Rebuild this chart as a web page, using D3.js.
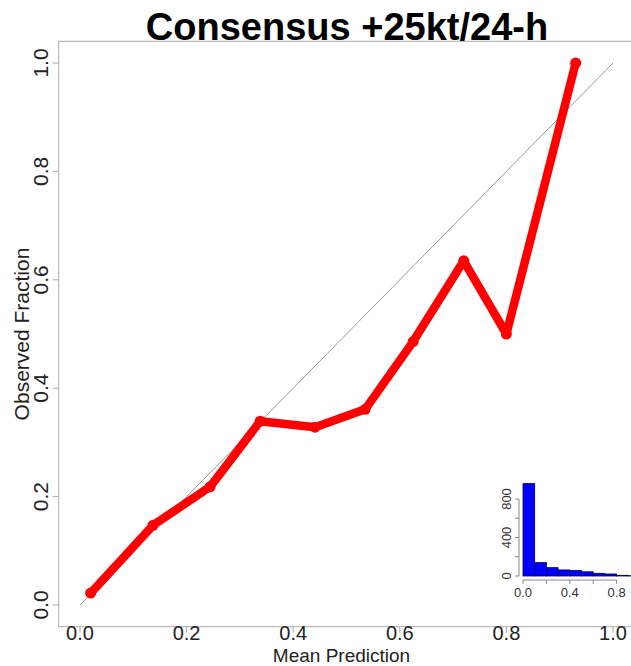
<!DOCTYPE html>
<html>
<head>
<meta charset="utf-8">
<script src="https://cdn.jsdelivr.net/npm/d3@7"></script>
<style>
  body { margin: 0; background: #fff; }
  text { font-family: "Liberation Sans", Arial, sans-serif; }
</style>
</head>
<body>
<svg id="chart" width="631" height="666"></svg>
<script>
// reliability diagram values
var meanPrediction = [0.02, 0.137, 0.244, 0.338, 0.441, 0.535, 0.625, 0.72, 0.80, 0.93];
var observedFraction = [0.022, 0.147, 0.218, 0.339, 0.328, 0.361, 0.486, 0.635, 0.50, 1.0];
var axisTicks = [0, 0.2, 0.4, 0.6, 0.8, 1.0];

// inset histogram of forecast counts
var binStarts = [0, 0.1, 0.2, 0.3, 0.4, 0.5, 0.6, 0.7, 0.8, 0.9];
var binCounts = [960, 139, 87, 63, 57, 44, 28, 21, 7, 3];
var histXTicks = [0, 0.2, 0.4, 0.6, 0.8];
var histXLabels = [0, 0.4, 0.8];
var histYTicks = [0, 200, 400, 600, 800];
var histYLabels = [0, 400, 800];

var svg = d3.select("#chart");

var x = d3.scaleLinear().domain([0, 1]).range([80, 613]);
var y = d3.scaleLinear().domain([0, 1]).range([605, 63]);

// plot box (R style, 4% padding)
svg.append("rect")
    .attr("x", x(-0.04)).attr("y", y(1.04))
    .attr("width", x(1.04) - x(-0.04))
    .attr("height", y(-0.04) - y(1.04))
    .attr("fill", "none").attr("stroke", "#aaa").attr("stroke-width", 1);

// title
svg.append("text")
    .attr("x", 347).attr("y", 40)
    .attr("text-anchor", "middle")
    .attr("font-size", 38).attr("font-weight", "bold")
    .attr("fill", "#000")
    .text("Consensus +25kt/24-h");

// x axis
var xAxis = svg.append("g").attr("transform", "translate(0," + y(-0.04) + ")");
xAxis.selectAll("line").data(axisTicks).enter().append("line")
    .attr("x1", function(d){ return x(d); }).attr("x2", function(d){ return x(d); })
    .attr("y1", 0).attr("y2", 6).attr("stroke", "#aaa");
xAxis.selectAll("text").data(axisTicks).enter().append("text")
    .attr("x", function(d){ return x(d); }).attr("y", 13.5)
    .attr("text-anchor", "middle").attr("font-size", 20).attr("fill", "#222")
    .text(function(d){ return d3.format(".1f")(d); });

svg.append("text")
    .attr("x", x(0.5) - 5).attr("y", 661.5)
    .attr("text-anchor", "middle").attr("font-size", 19).attr("fill", "#222")
    .text("Mean Prediction");

// y axis
var yAxis = svg.append("g").attr("transform", "translate(" + x(-0.04) + ",0)");
yAxis.selectAll("line").data(axisTicks).enter().append("line")
    .attr("y1", function(d){ return y(d); }).attr("y2", function(d){ return y(d); })
    .attr("x1", 0).attr("x2", -6).attr("stroke", "#aaa");
yAxis.selectAll("text").data(axisTicks).enter().append("text")
    .attr("transform", function(d){ return "translate(-11," + y(d) + ") rotate(-90)"; })
    .attr("text-anchor", "middle").attr("font-size", 21).attr("fill", "#222")
    .text(function(d){ return d3.format(".1f")(d); });

svg.append("text")
    .attr("transform", "translate(29," + y(0.5) + ") rotate(-90)")
    .attr("text-anchor", "middle").attr("font-size", 21).attr("fill", "#222")
    .text("Observed Fraction");

// perfect reliability line
svg.append("line")
    .attr("x1", x(0)).attr("y1", y(0)).attr("x2", x(1)).attr("y2", y(1))
    .attr("stroke", "#999").attr("stroke-width", 1);

// red curve
var pts = meanPrediction.map(function(d, i){ return [d, observedFraction[i]]; });
var line = d3.line().x(function(d){ return x(d[0]); }).y(function(d){ return y(d[1]); });
svg.append("path").datum(pts)
    .attr("d", line).attr("fill", "none")
    .attr("stroke", "#ff0000").attr("stroke-width", 8.5)
    .attr("stroke-linejoin", "round");
svg.selectAll("circle.pt").data(pts).enter().append("circle")
    .attr("class", "pt")
    .attr("cx", function(d){ return x(d[0]); }).attr("cy", function(d){ return y(d[1]); })
    .attr("r", 5.5).attr("fill", "#ff0000");

// inset histogram
var hx = d3.scaleLinear().domain([0, 1]).range([523, 640]);
var hy = d3.scaleLinear().domain([0, 800]).range([576, 499]);
var inset = svg.append("g");

inset.selectAll("rect").data(binStarts).enter().append("rect")
    .attr("x", function(d){ return hx(d); })
    .attr("width", hx(0.1) - hx(0))
    .attr("y", function(d, i){ return hy(binCounts[i]); })
    .attr("height", function(d, i){ return hy(0) - hy(binCounts[i]); })
    .attr("fill", "#0000ff").attr("stroke", "#000060").attr("stroke-width", 0.8);

// inset x axis
var hxAxis = inset.append("g").attr("transform", "translate(0,580)");
hxAxis.append("line").attr("x1", hx(0)).attr("x2", hx(0.8)).attr("stroke", "#888");
hxAxis.selectAll("line.t").data(histXTicks).enter().append("line")
    .attr("class", "t")
    .attr("x1", function(d){ return hx(d); }).attr("x2", function(d){ return hx(d); })
    .attr("y1", 0).attr("y2", 4).attr("stroke", "#888");
hxAxis.selectAll("text").data(histXLabels).enter().append("text")
    .attr("x", function(d){ return hx(d); }).attr("y", 17)
    .attr("text-anchor", "middle").attr("font-size", 13).attr("fill", "#333")
    .text(function(d){ return d3.format(".1f")(d); });

// inset y axis
var hyAxis = inset.append("g").attr("transform", "translate(519,0)");
hyAxis.append("line").attr("y1", hy(0)).attr("y2", hy(800)).attr("stroke", "#888");
hyAxis.selectAll("line.t").data(histYTicks).enter().append("line")
    .attr("class", "t")
    .attr("y1", function(d){ return hy(d); }).attr("y2", function(d){ return hy(d); })
    .attr("x1", 0).attr("x2", -4).attr("stroke", "#888");
hyAxis.selectAll("text").data(histYLabels).enter().append("text")
    .attr("transform", function(d){ return "translate(-8," + hy(d) + ") rotate(-90)"; })
    .attr("text-anchor", "middle").attr("font-size", 13).attr("fill", "#333")
    .text(function(d){ return d; });
</script>
</body>
</html>
